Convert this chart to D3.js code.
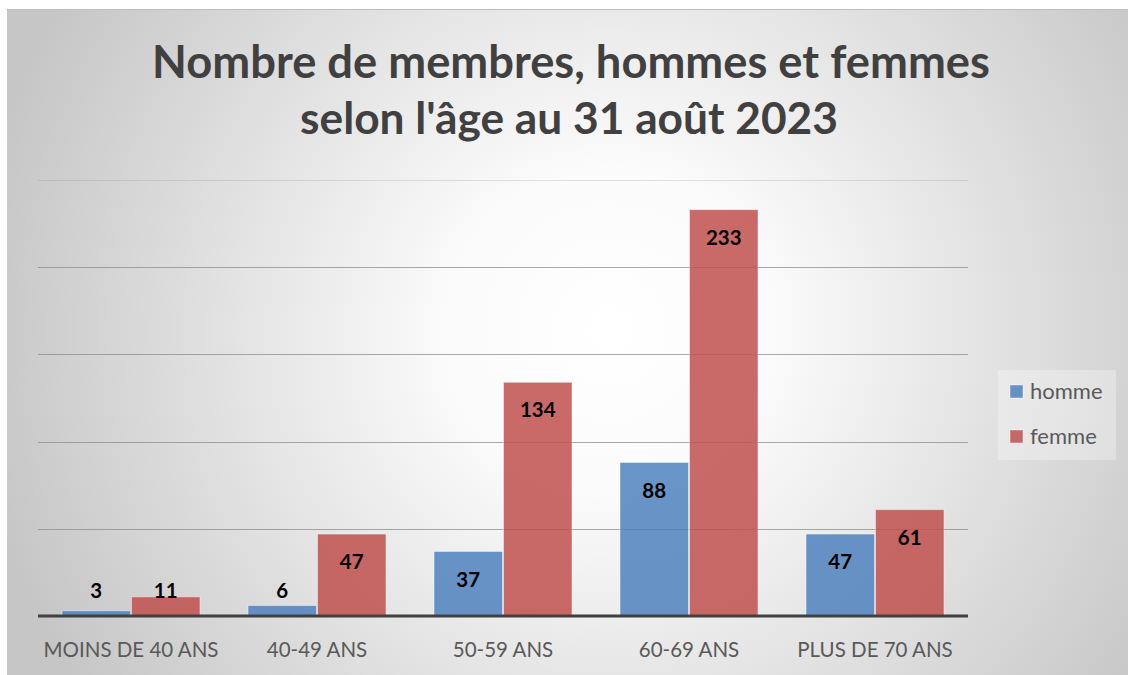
<!DOCTYPE html>
<html>
<head>
<meta charset="utf-8">
<script src="https://cdn.jsdelivr.net/npm/d3@7"></script>
<style>
  html, body { margin: 0; padding: 0; background: #fff; }
  svg { display: block; font-family: Lato, "Open Sans", sans-serif; }
</style>
</head>
<body>
<svg id="chart" width="1128" height="675"></svg>
<script>
var categories = ["MOINS DE 40 ANS", "40-49 ANS", "50-59 ANS", "60-69 ANS", "PLUS DE 70 ANS"];
var homme = [3, 6, 37, 88, 47];
var femme = [11, 47, 134, 233, 61];
var seriesNames = ["homme", "femme"];
var yTicks = [0, 50, 100, 150, 200, 250];
var titleLines = ["Nombre de membres, hommes et femmes", "selon l'âge au 31 août 2023"];

var colors = { homme: "#4F81BD", femme: "#C0504D" };

var svg = d3.select("#chart");
var W = 1128, H = 675;

// background with radial gradient
var defs = svg.append("defs");
var grad = defs.append("radialGradient")
  .attr("id", "bg")
  .attr("gradientUnits", "userSpaceOnUse")
  .attr("cx", 610).attr("cy", 330).attr("r", 640);
grad.append("stop").attr("offset", "0%").attr("stop-color", "#ffffff");
grad.append("stop").attr("offset", "25%").attr("stop-color", "#fbfbfb");
grad.append("stop").attr("offset", "100%").attr("stop-color", "#c6c6c6");

svg.append("rect")
  .attr("x", 7).attr("y", 9)
  .attr("width", W - 7).attr("height", H - 9)
  .attr("fill", "url(#bg)");
svg.append("line")
  .attr("x1", 7).attr("x2", W).attr("y1", 9.5).attr("y2", 9.5)
  .attr("stroke", "#bdbdbd");

// fit text to a target width
function fitText(sel, width) {
  var size = parseFloat(sel.attr("font-size"));
  var len = sel.node().getComputedTextLength();
  sel.attr("font-size", size * width / len);
}

// title
var t1 = svg.append("text")
  .attr("x", 571).attr("y", 78)
  .attr("text-anchor", "middle")
  .attr("font-weight", "bold")
  .attr("font-size", 40)
  .attr("fill", "#404040")
  .text(titleLines[0]);
fitText(t1, 838);
var t2 = svg.append("text")
  .attr("x", 569).attr("y", 134)
  .attr("text-anchor", "middle")
  .attr("font-weight", "bold")
  .attr("font-size", 40)
  .attr("fill", "#404040")
  .text(titleLines[1]);
fitText(t2, 538);

var plotLeft = 38, plotRight = 968, plotTop = 180, plotBottom = 616;

var x0 = d3.scaleBand()
  .domain(categories)
  .range([plotLeft, plotRight])
  .paddingInner(0.2527)
  .paddingOuter(0.1263);

var x1 = d3.scaleBand()
  .domain(seriesNames)
  .range([0, x0.bandwidth()]);

var y = d3.scaleLinear()
  .domain([0, d3.max(yTicks)])
  .range([plotBottom, plotTop]);

// gridlines
svg.append("g")
  .selectAll("line")
  .data(yTicks.filter(function(d) { return d > 0; }))
  .enter().append("line")
  .attr("x1", plotLeft).attr("x2", plotRight)
  .attr("y1", function(d) { return Math.round(y(d)) + 0.5; })
  .attr("y2", function(d) { return Math.round(y(d)) + 0.5; })
  .attr("stroke", "#8c8c8c")
  .attr("stroke-opacity", function(d) { return d === d3.max(yTicks) ? 0.25 : 0.75; })
  .attr("stroke-width", 1.2);

// bars
var rows = categories.map(function(c, i) {
  return { cat: c, homme: homme[i], femme: femme[i] };
});

var groups = svg.append("g")
  .selectAll("g")
  .data(rows)
  .enter().append("g")
  .attr("transform", function(d) { return "translate(" + x0(d.cat) + ",0)"; });

var bars = groups.selectAll("g")
  .data(function(d) {
    return seriesNames.map(function(s) { return { key: s, value: d[s] }; });
  })
  .enter().append("g");

bars.append("rect")
  .attr("x", function(d) { return x1(d.key) + 0.5; })
  .attr("y", function(d) { return y(d.value); })
  .attr("width", x1.bandwidth() - 1)
  .attr("height", function(d) { return y(0) - y(d.value); })
  .attr("fill", function(d) { return colors[d.key]; })
  .attr("fill-opacity", 0.85)
  .attr("stroke", "#ffffff")
  .attr("stroke-opacity", 0.45)
  .attr("stroke-width", 1);

bars.append("text")
  .attr("x", function(d) { return x1(d.key) + x1.bandwidth() / 2; })
  .attr("y", function(d) { return Math.min(y(d.value) + 28, y(0) - 25); })
  .attr("dy", "0.35em")
  .attr("text-anchor", "middle")
  .attr("font-weight", "bold")
  .attr("font-size", 20.5)
  .attr("fill", "#000")
  .text(function(d) { return d.value; });

// baseline
svg.append("line")
  .attr("x1", plotLeft).attr("x2", plotRight)
  .attr("y1", y(0)).attr("y2", y(0))
  .attr("stroke", "#404040")
  .attr("stroke-width", 3);

// category axis labels
var xAxis = d3.axisBottom(x0).tickSize(0).tickPadding(0);
var gx = svg.append("g")
  .attr("transform", "translate(0," + y(0) + ")")
  .call(xAxis);
gx.select(".domain").remove();
gx.selectAll("text")
  .attr("y", 41)
  .attr("dy", 0)
  .attr("font-size", 20.5)
  .attr("font-family", "Lato, 'Open Sans', sans-serif")
  .attr("fill", "#595959");

// legend
var legend = svg.append("g");
legend.append("rect")
  .attr("x", 998).attr("y", 370)
  .attr("width", 118).attr("height", 90)
  .attr("fill", "#ffffff")
  .attr("fill-opacity", 0.3);

var li = legend.selectAll("g.item")
  .data(seriesNames)
  .enter().append("g")
  .attr("class", "item")
  .attr("transform", function(d, i) { return "translate(1010," + (385 + i * 45) + ")"; });
li.append("rect")
  .attr("width", 13).attr("height", 13)
  .attr("fill", function(d) { return colors[d]; })
  .attr("fill-opacity", 0.85)
  .attr("stroke", "#ffffff")
  .attr("stroke-opacity", 0.45);
li.append("text")
  .attr("x", 20).attr("y", 14)
  .attr("font-size", 22)
  .attr("fill", "#595959")
  .text(function(d) { return d; });
</script>
</body>
</html>
